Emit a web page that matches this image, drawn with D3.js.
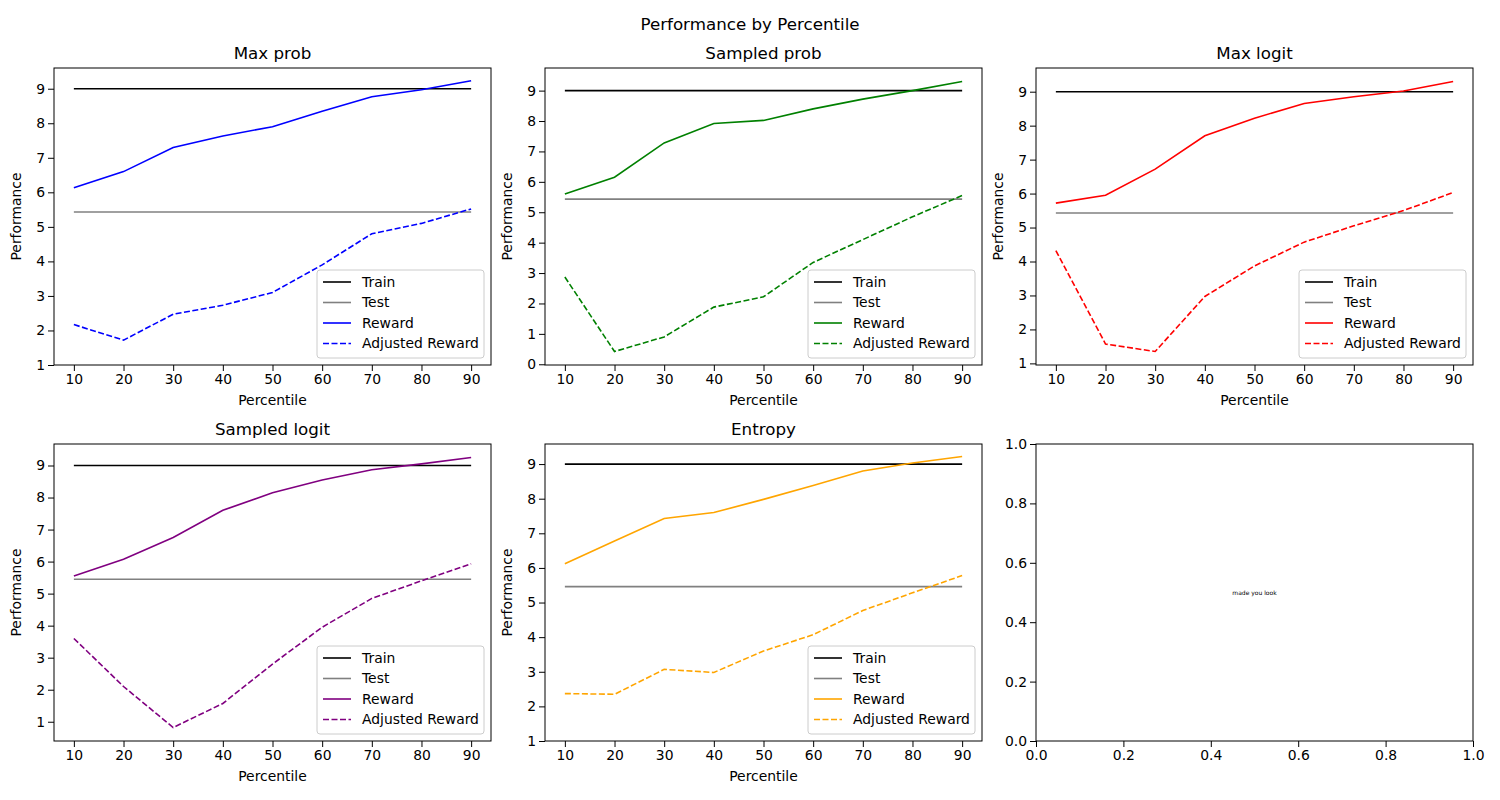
<!DOCTYPE html>
<html><head><meta charset="utf-8">
<script src="https://cdn.jsdelivr.net/npm/d3@7"></script>
<style>body{margin:0;background:#fff}text{font-family:"DejaVu Sans",sans-serif}</style>
</head><body><div id="c"></div>
<script>
const percentiles = [10, 20, 30, 40, 50, 60, 70, 80, 90];
const titles = ['Max prob', 'Sampled prob', 'Max logit', 'Sampled logit', 'Entropy'];
const colors = ['blue', 'green', 'red', 'purple', 'orange'];
const trainVals = [9, 9, 9, 9, 9];
const testVals = [5.43, 5.43, 5.43, 5.45, 5.46];
const reward = [
  [6.13, 6.6, 7.3, 7.63, 7.9, 8.35, 8.77, 8.97, 9.23],
  [5.6, 6.15, 7.28, 7.92, 8.02, 8.4, 8.72, 9.0, 9.3],
  [5.72, 5.95, 6.72, 7.7, 8.22, 8.65, 8.85, 9.02, 9.3],
  [5.55, 6.07, 6.75, 7.6, 8.15, 8.55, 8.87, 9.05, 9.25],
  [6.12, 6.78, 7.43, 7.6, 7.98, 8.38, 8.8, 9.03, 9.22]
];
const adjusted = [
  [2.17, 1.72, 2.47, 2.73, 3.1, 3.9, 4.8, 5.1, 5.52],
  [2.87, 0.42, 0.9, 1.88, 2.22, 3.35, 4.1, 4.85, 5.55],
  [4.32, 1.57, 1.35, 2.97, 3.87, 4.57, 5.05, 5.5, 6.03],
  [3.6, 2.1, 0.82, 1.57, 2.8, 3.95, 4.85, 5.4, 5.93],
  [2.37, 2.35, 3.07, 2.98, 3.6, 4.07, 4.77, 5.28, 5.78]
];
// y limits read from the reference where they are not the auto margins
const yLimits = [[1, 9.6], null, null, null, [1, 9.58]];
const legendLabels = ['Train', 'Test', 'Reward', 'Adjusted Reward'];

const svg = d3.select('#c').append('svg').attr('width', 1500).attr('height', 800);
svg.append('text').attr('x', 750).attr('y', 30).attr('text-anchor', 'middle')
  .style('font-size', '16.7px').text('Performance by Percentile');

const lefts = [54, 545, 1036], tops = [68, 444];
const w = 437, h = 297;

function frame(g) {
  g.append('rect').attr('width', w).attr('height', h).attr('fill', 'none').attr('stroke', 'black').attr('stroke-width', 1);
}
function styleAxis(a) {
  a.selectAll('text').style('font-size', '13.9px').attr('fill', 'black');
  a.select('.domain').remove();
}

for (let i = 0; i < 6; i++) {
  const g = svg.append('g').attr('transform', `translate(${lefts[i % 3]},${tops[Math.floor(i / 3)]})`);
  if (i === 5) {
    const x = d3.scaleLinear().domain([0, 1]).range([0, w]);
    const y = d3.scaleLinear().domain([0, 1]).range([h, 0]);
    styleAxis(g.append('g').attr('transform', `translate(0,${h})`).call(d3.axisBottom(x).ticks(5).tickFormat(d3.format('.1f')).tickSizeOuter(0)));
    styleAxis(g.append('g').call(d3.axisLeft(y).ticks(5).tickFormat(d3.format('.1f')).tickSizeOuter(0)));
    g.append('text').attr('x', x(0.5)).attr('y', y(0.5)).attr('dy', '0.35em').attr('text-anchor', 'middle')
      .style('font-size', '6px').text('made you look');
    frame(g);
    continue;
  }
  const all = reward[i].concat(adjusted[i], [trainVals[i], testVals[i]]);
  const [mn, mx] = d3.extent(all);
  const pad = (mx - mn) * 0.05;
  const dom = yLimits[i] || [mn - pad, mx + pad];
  const x = d3.scaleLinear().domain([6, 94]).range([0, w]);
  const y = d3.scaleLinear().domain(dom).range([h, 0]);
  styleAxis(g.append('g').attr('transform', `translate(0,${h})`).call(d3.axisBottom(x).tickValues(percentiles).tickSizeOuter(0)));
  styleAxis(g.append('g').call(d3.axisLeft(y).tickValues(d3.range(Math.ceil(dom[0] - 1e-9), Math.floor(dom[1]) + 1)).tickSizeOuter(0)));
  const line = d3.line().x((d, j) => x(percentiles[j])).y(d => y(d));
  const series = [
    [percentiles.map(() => trainVals[i]), 'black', null],
    [percentiles.map(() => testVals[i]), 'gray', null],
    [reward[i], colors[i], null],
    [adjusted[i], colors[i], '6,2.5']
  ];
  series.forEach(s => g.append('path').attr('d', line(s[0])).attr('fill', 'none')
    .attr('stroke', s[1]).attr('stroke-width', 1.6).attr('stroke-dasharray', s[2]));
  frame(g);
  g.append('text').attr('x', w / 2).attr('y', -9).attr('text-anchor', 'middle').style('font-size', '16.7px').text(titles[i]);
  g.append('text').attr('x', w / 2).attr('y', h + 40).attr('text-anchor', 'middle').style('font-size', '13.9px').text('Percentile');
  g.append('text').attr('transform', `translate(-33,${h / 2}) rotate(-90)`).attr('text-anchor', 'middle').style('font-size', '13.9px').text('Performance');
  const lg = g.append('g').attr('transform', `translate(${w - 174},${h - 95})`);
  lg.append('rect').attr('width', 167).attr('height', 88).attr('rx', 3).attr('fill', 'white').attr('fill-opacity', 0.8).attr('stroke', '#ccc');
  legendLabels.forEach((t, k) => {
    const yy = 12 + k * 20.5;
    lg.append('line').attr('x1', 6).attr('x2', 34).attr('y1', yy).attr('y2', yy)
      .attr('stroke', series[k][1]).attr('stroke-width', 1.6).attr('stroke-dasharray', series[k][2]);
    lg.append('text').attr('x', 45).attr('y', yy).attr('dy', '0.35em').style('font-size', '13.9px').text(t);
  });
}
</script></body></html>
